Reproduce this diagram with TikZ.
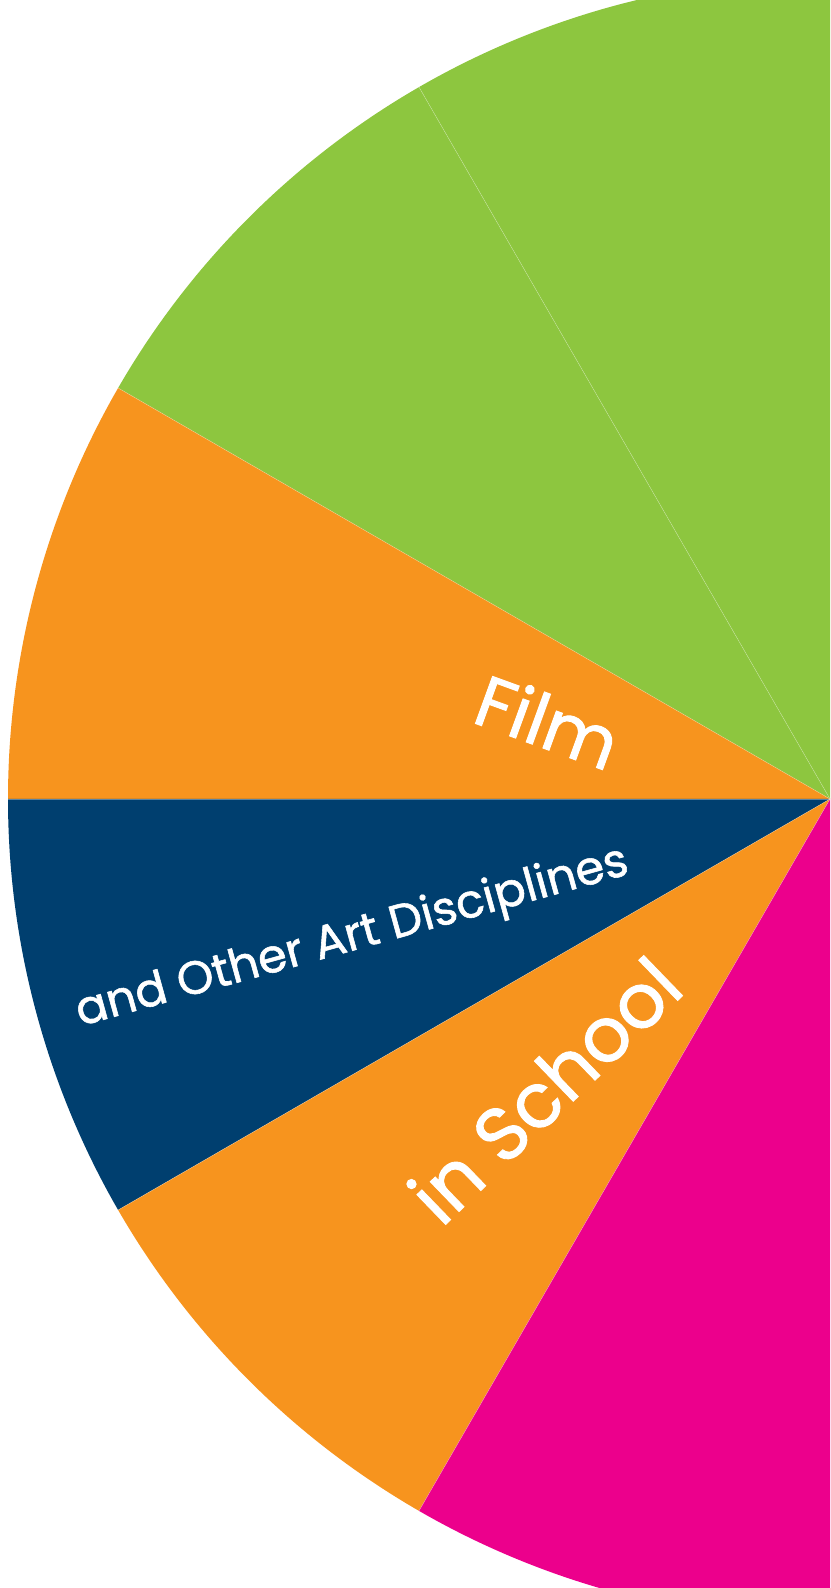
\documentclass[tikz,border=0pt]{standalone}
\usepackage{fontspec}
\setmainfont{Poppins}
\newfontfamily\slicefont[FakeBold=1.2]{Poppins}
\definecolor{pieGreen}{HTML}{8DC63F}
\definecolor{pieOrange}{HTML}{F7941E}
\definecolor{pieNavy}{HTML}{003F6F}
\definecolor{pieMagenta}{HTML}{EC008C}

\tikzset{
  slicetext/.style={text=white, inner sep=0pt, anchor=center, font=\slicefont},
  divider/.style={white, opacity=0.35, line width=0.3pt}
}

\begin{document}
\begin{tikzpicture}
\useasboundingbox (0,0) rectangle (16.6,31.76);
\clip (0,0) rectangle (16.6,31.76);
\coordinate (O) at (16.6,15.78);

% slices
\foreach \a/\b/\c in {90/120/pieGreen,120/150/pieGreen,150/180/pieOrange,180/210/pieNavy,210/240/pieOrange,240/270/pieMagenta}
  \fill[\c] (O) -- ++(\a:16.44) arc[start angle=\a, end angle=\b, radius=16.44] -- cycle;

\foreach \a in {120,150,180,210,240}
  \draw[divider] (O) -- ++(\a:16.44);

% labels
\node[slicetext, rotate=-20] (film) at ([shift={(164.5:5.85)}]O) {\fontsize{41}{41}\selectfont Film};
\node[slicetext, rotate=15.5] (other) at ([shift={(196.3:9.95)}]O) {\fontsize{26.5}{26.5}\selectfont and Other Art Disciplines};
\node[slicetext, rotate=44] (school) at ([shift={(225.5:8.15)}]O) {\fontsize{43}{43}\selectfont in School};
\end{tikzpicture}
\end{document}
